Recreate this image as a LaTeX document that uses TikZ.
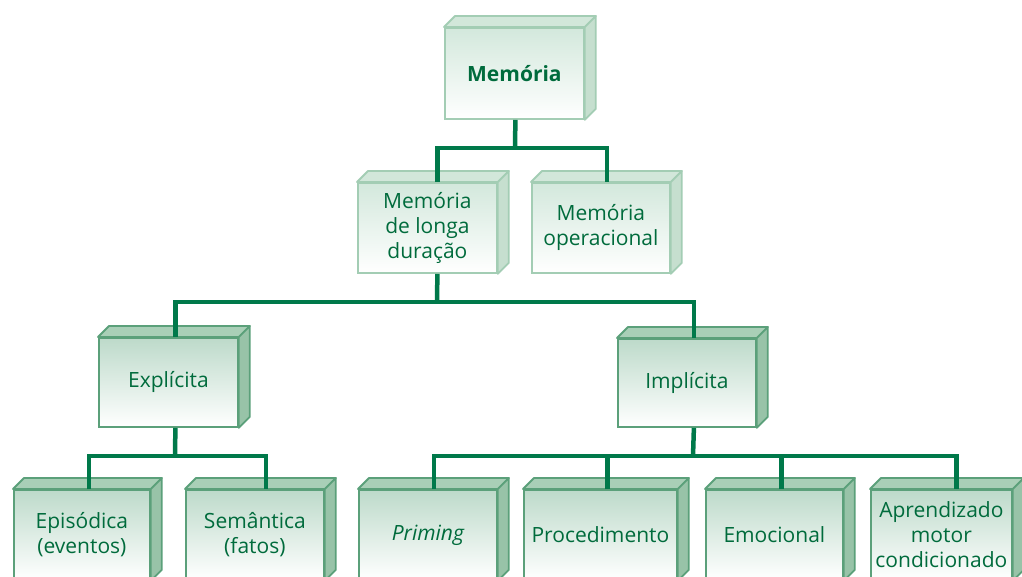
\documentclass[tikz,border=0pt]{standalone}
\usepackage{fontspec}
\setmainfont{Open Sans}
\definecolor{conn}{HTML}{00794A}
\definecolor{txt}{HTML}{006B3C}
\definecolor{lbord}{HTML}{A3CDB4}
\definecolor{ltop}{HTML}{D2E7DA}
\definecolor{lside}{HTML}{C6DFCF}
\definecolor{lfront}{HTML}{D3E8DC}
\definecolor{dbord}{HTML}{5BA07A}
\definecolor{dtop}{HTML}{A9CFB7}
\definecolor{dside}{HTML}{98C3A8}
\definecolor{dfront}{HTML}{BDDACA}
% top and right faces of a block whose front face is the node #1
\newcommand\blockfaces[2]{%
  \filldraw[#2top] (#1.north west) -- ([shift={(11,-11)}]#1.north west)
    -- ([shift={(11,-11)}]#1.north east) -- (#1.north east) -- cycle;
  \filldraw[#2side] (#1.north east) -- ([shift={(11,-11)}]#1.north east)
    -- ([shift={(11,-11)}]#1.south east) -- (#1.south east) -- cycle;}
\begin{document}
\begin{tikzpicture}[x=1pt,y=-1pt,
  front/.style={anchor=north west, inner sep=0pt, line width=1.8pt,
    align=center, text=txt, font=\fontsize{21}{25}\selectfont},
  light/.style={front, draw=lbord, top color=lfront, bottom color=white},
  dark/.style={front, draw=dbord, top color=dfront, bottom color=white},
  lighttop/.style={fill=ltop, draw=lbord, line width=1.8pt, line join=round},
  lightside/.style={fill=lside, draw=lbord, line width=1.8pt, line join=round},
  darktop/.style={fill=dtop, draw=dbord, line width=1.8pt, line join=round},
  darkside/.style={fill=dside, draw=dbord, line width=1.8pt, line join=round},
  link/.style={draw=conn, line width=4.5pt}]
\useasboundingbox (0,0) rectangle (1022,576);
\clip (0,0) rectangle (1022,576);

% level 1
\node[light, minimum width=139pt, minimum height=91pt] (mem) at (444,27) {\bfseries Memória};
\blockfaces{mem}{light}
% level 2
\node[light, minimum width=139pt, minimum height=90pt] (ld) at (357,182) {Memória\\de longa\\duração};
\blockfaces{ld}{light}
\node[light, minimum width=138pt, minimum height=90pt] (op) at (531,182) {Memória\\operacional};
\blockfaces{op}{light}
% level 3
\node[dark, minimum width=139pt, minimum height=89pt] (exp) at (98,337) {Explícita};
\blockfaces{exp}{dark}
\node[dark, minimum width=138pt, minimum height=88pt] (imp) at (617,338) {Implícita};
\blockfaces{imp}{dark}
% level 4 (the blocks run past the lower edge)
\node[dark, minimum width=136pt, minimum height=90pt] (epi) at (13,489) {Episódica\\(eventos)};
\blockfaces{epi}{dark}
\node[dark, minimum width=138pt, minimum height=90pt] (sem) at (185,489) {Semântica\\(fatos)};
\blockfaces{sem}{dark}
\node[dark, minimum width=138pt, minimum height=90pt] (pri) at (358,489) {\itshape Priming};
\blockfaces{pri}{dark}
\node[dark, minimum width=153pt, minimum height=90pt] (pro) at (523,489) {Procedimento};
\blockfaces{pro}{dark}
\node[dark, minimum width=137pt, minimum height=90pt] (emo) at (705,489) {Emocional};
\blockfaces{emo}{dark}
\node[dark, minimum width=141pt, minimum height=90pt] (apr) at (870,489) {Aprendizado\\motor\\condicionado};
\blockfaces{apr}{dark}

% connectors
\coordinate (j1) at (515,148);
\coordinate (j2) at (437,302);
\coordinate (j3) at (175,456);
\coordinate (j4) at (693,456);
\draw[link] ([xshift=1]mem.south) -- (j1);
\draw[link] ([xshift=10]ld.north) |- (j1) -| ([xshift=6]op.north);
\draw[link] ([xshift=10]ld.south) -- (j2);
\draw[link] ([xshift=7]exp.north) |- (j2) -| ([xshift=7]imp.north);
\draw[link] ([xshift=7]exp.south) -- (j3);
\draw[link] ([xshift=7]epi.north) |- (j3) -| ([xshift=11]sem.north);
\draw[link] ([xshift=7]imp.south) -- (j4);
\draw[link] ([xshift=6]pri.north) |- (j4) -| ([xshift=15]apr.north);
\draw[link] ([xshift=7]pro.north) -- ([xshift=7]pro.north |- j4);
\draw[link] ([xshift=7]emo.north) -- ([xshift=7]emo.north |- j4);
\end{tikzpicture}
\end{document}
